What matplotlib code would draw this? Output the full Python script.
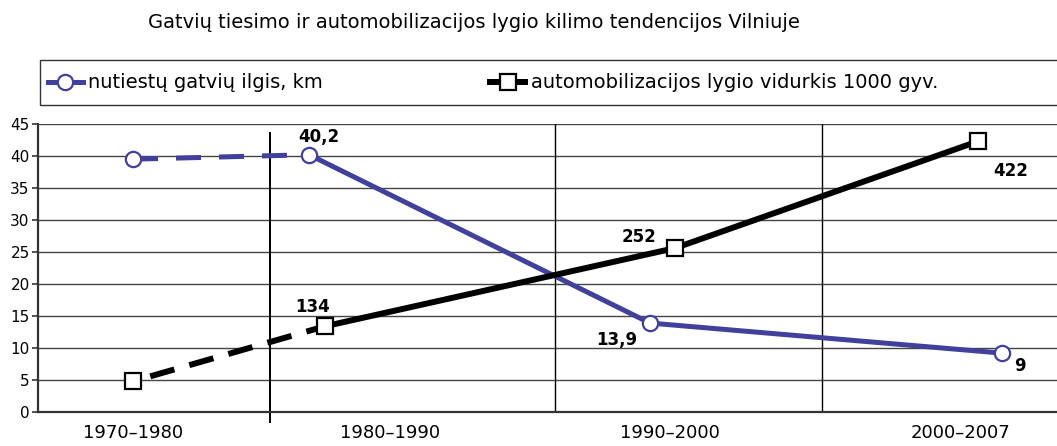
import matplotlib.pyplot as plt
from matplotlib.lines import Line2D
from matplotlib.patches import Rectangle

plt.rcParams['font.family'] = ['DejaVu Sans']

# ── data ─────────────────────────────────────────
periods = ['1970–1980', '1980–1990', '1990–2000', '2000–2007']
period_x = [0.373, 1.382, 2.48, 3.62]          # label centres on the x scale
separators = [0.911, 2.03, 3.078]               # vertical period dividers

road_x = [0.373, 1.064, 2.402, 3.784]
road_km = [39.5, 40.2, 13.9, 9.2]
road_labels = ['', '40,2', '13,9', '9']

car_x = [0.373, 1.127, 2.50, 3.69]
car_level = [4.8, 13.4, 25.6, 42.3]             # per 1000 residents / 10
car_labels = ['', '134', '252', '422']

BLUE = '#41419b'

fig = plt.figure(figsize=(10.57, 4.46), dpi=100)
ax = fig.add_axes([38/1057, 34/446, 1 - 38/1057, 288/446])

ax.set_xlim(0, 4)
ax.set_ylim(0, 45)
ax.set_yticks(range(0, 46, 5))
ax.grid(axis='y', color='#444444', linewidth=1.0)
ax.set_axisbelow(True)

for i, sx in enumerate(separators):
    if i == 0:
        ax.plot([sx, sx], [43.6, -1.6], color='black', lw=1.4, clip_on=False)
    else:
        ax.axvline(sx, color='black', lw=1.0)

# dashed first segments, solid afterwards
ax.plot(road_x[:2], road_km[:2], color=BLUE, lw=3.6, linestyle=(0, (5.0, 3.6)))
ax.plot(road_x[1:], road_km[1:], color=BLUE, lw=3.6)
ax.plot(car_x[:2], car_level[:2], color='black', lw=4.3, linestyle=(3.8, (4.2, 2.6)))
ax.plot(car_x[1:], car_level[1:], color='black', lw=4.3)

ax.plot(road_x, road_km, ls='none', marker='o', ms=11, mfc='white', mec=BLUE, mew=1.6, zorder=5)
ax.plot(car_x, car_level, ls='none', marker='s', ms=12, mfc='white', mec='black', mew=1.6, zorder=5)

bold = dict(fontsize=12, fontweight='bold', ha='center', va='center')
road_off = [(0, 0), (0.04, 2.8), (-0.13, -2.7), (0.07, -2.0)]
for x, y, t, (dx, dy) in zip(road_x, road_km, road_labels, road_off):
    if t:
        ax.text(x + dx, y + dy, t, **bold)
car_off = [(0, 0), (-0.05, 3.0), (-0.14, 1.8), (0.13, -4.6)]
for x, y, t, (dx, dy) in zip(car_x, car_level, car_labels, car_off):
    if t:
        ax.text(x + dx, y + dy, t, **bold)

ax.set_xticks(period_x)
ax.set_xticklabels(periods, fontsize=13)
ax.tick_params(axis='x', length=0, pad=9)
ax.tick_params(axis='y', length=4, width=1.2, labelsize=11, pad=2, color='#333333')

for s in ['top', 'right']:
    ax.spines[s].set_visible(False)
ax.spines['left'].set_color('#333333')
ax.spines['left'].set_linewidth(1.6)
ax.spines['bottom'].set_color('#333333')
ax.spines['bottom'].set_linewidth(1.6)

# legend box
fig.patches.append(Rectangle((40/1057, 1 - 105/446), 1.0, 45/446, transform=fig.transFigure,
                             facecolor='white', edgecolor='#333333', lw=1.0))
handles = [
    Line2D([], [], color=BLUE, lw=3.6, marker='o', ms=11, mfc='white', mec=BLUE, mew=1.6),
    Line2D([], [], color='black', lw=4.3, marker='s', ms=12, mfc='white', mec='black', mew=1.6),
]
fig.legend(handles, ['nutiestų gatvių ilgis, km', 'automobilizacijos lygio vidurkis 1000 gyv.'],
           loc='center left', bbox_to_anchor=(30/1057, 1 - 83/446), ncol=2, frameon=False,
           fontsize=14, handlelength=1.8, handletextpad=0.3, columnspacing=8.6)

fig.text(474/1057, 1 - 22/446, 'Gatvių tiesimo ir automobilizacijos lygio kilimo tendencijos Vilniuje',
         ha='center', va='center', fontsize=14)

fig.savefig('out.png', dpi=100)
